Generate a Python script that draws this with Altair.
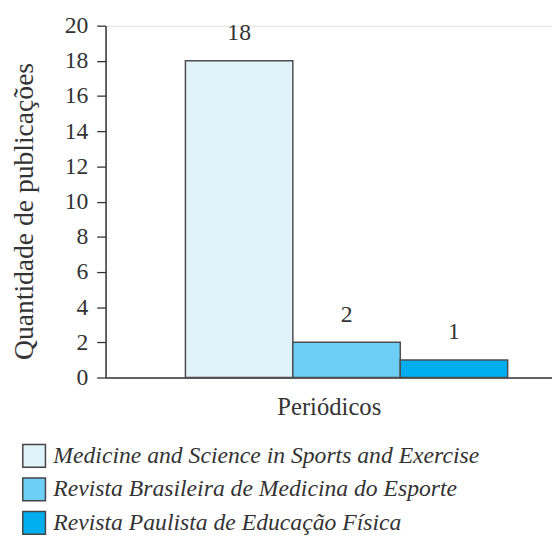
import altair as alt
import pandas as pd

journals = [
    "Medicine and Science in Sports and Exercise",
    "Revista Brasileira de Medicina do Esporte",
    "Revista Paulista de Educação Física",
]
counts = [18, 2, 1]
colors = ["#e0f3fa", "#6dcff6", "#00aeef"]
y_ticks = [0, 2, 4, 6, 8, 10, 12, 14, 16, 18, 20]

df = pd.DataFrame({"journal": journals, "count": counts})

FONT = "Liberation Serif"
TXT = "#333333"

x = alt.X(
    "journal:N",
    sort=journals,
    scale=alt.Scale(paddingInner=0, paddingOuter=0.578, align=0.643),
    axis=alt.Axis(
        labels=False, ticks=False, title="Periódicos", titleFontSize=25,
        titleFont=FONT, titleFontWeight="normal", titleColor=TXT,
        titlePadding=18, domainColor=TXT, domainWidth=1.5,
    ),
)
y = alt.Y(
    "count:Q",
    scale=alt.Scale(domain=[0, 20], nice=False),
    axis=alt.Axis(
        values=y_ticks, title="Quantidade de publicações", titleFontSize=28,
        titleFont=FONT, titleFontWeight="normal", titleColor=TXT,
        titlePadding=26, titleY=188, labelFontSize=24, labelFont=FONT,
        labelColor=TXT, labelPadding=9, tickSize=9, tickColor=TXT,
        tickWidth=1.3, labelOverlap=False, labelFlush=False,
        domainColor=TXT, domainWidth=1.5, grid=False,
    ),
)

base = alt.Chart(df).encode(x=x, y=y)

bars = base.mark_bar(stroke="#4d4d4d", strokeWidth=1.5).encode(
    color=alt.Color(
        "journal:N",
        sort=journals,
        scale=alt.Scale(domain=journals, range=colors),
        legend=alt.Legend(
            title=None, orient="none", legendX=-85, legendY=424,
            symbolType="square", symbolSize=529, symbolStrokeColor="#444444",
            symbolStrokeWidth=1.5, symbolOpacity=1, labelFont=FONT,
            labelFontSize=24, labelFontStyle="italic", labelColor=TXT,
            labelOffset=7, rowPadding=5, padding=0, labelLimit=600,
        ),
    ),
)

labels = base.mark_text(
    baseline="bottom", dy=-16, font=FONT, fontSize=24, color=TXT
).encode(text="count:Q")

chart = (
    (bars + labels)
    .properties(
        width=453, height=357,
        autosize=alt.AutoSizeParams(type="none"),
        padding={"left": 99, "top": 14, "right": 0, "bottom": 165},
    )
    .configure_view(strokeWidth=0)
    .configure(background="white", font=FONT)
)

chart.save("out.html", embed_options={"renderer": "svg", "actions": False})
